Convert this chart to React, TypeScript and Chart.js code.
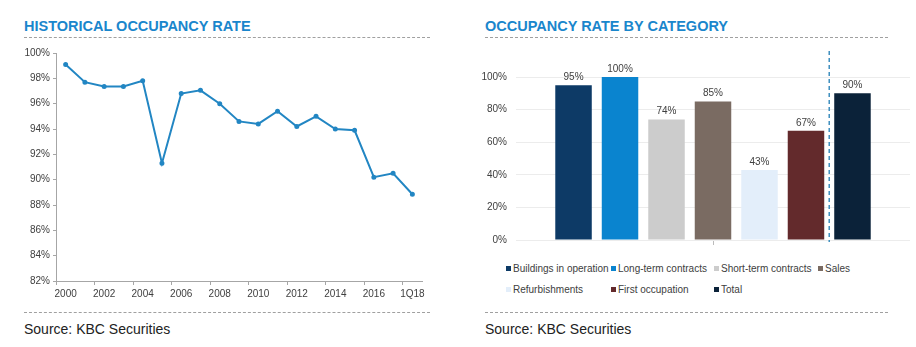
import React, { useEffect, useRef } from 'react';
import { Chart, registerables } from 'chart.js';

Chart.register(...registerables);

// ---------- Data ----------
const years = ['2000', '2001', '2002', '2003', '2004', '2005', '2006', '2007', '2008', '2009', '2010', '2011', '2012', '2013', '2014', '2015', '2016', '2017', '1Q18'];
const occupancy = [99.1, 97.7, 97.35, 97.35, 97.8, 91.3, 96.8, 97.05, 96.0, 94.6, 94.4, 95.4, 94.2, 95.0, 94.0, 93.9, 90.2, 90.5, 88.85];
const leftMin = 82;
const leftMax = 100;
const leftStep = 2;

const categories = ['Buildings in operation', 'Long-term contracts', 'Short-term contracts', 'Sales', 'Refurbishments', 'First occupation', 'Total'];
const categoryRates = [95, 100, 74, 85, 43, 67, 90];
const categoryColors = ['#0d3a66', '#0a84cf', '#cccccc', '#7a6b62', '#e3eefa', '#632a2c', '#0b2239'];
const rightMin = 0;
const rightMax = 100;
const rightStep = 20;

const FONT = "Arial, 'Liberation Sans', sans-serif";
const TEXT = '#404040';
const TITLE = '#1a86cc';

function HistoricalChart() {
  const ref = useRef<HTMLCanvasElement>(null);
  useEffect(() => {
    if (!ref.current) return;
    const chart = new Chart(ref.current, {
      type: 'line',
      data: {
        labels: years,
        datasets: [
          {
            label: 'Occupancy',
            data: occupancy,
            borderColor: '#2286c3',
            backgroundColor: '#2286c3',
            borderWidth: 2,
            pointRadius: 1.5,
            pointHoverRadius: 1.5,
            tension: 0,
          },
        ],
      },
      options: {
        animation: false,
        responsive: false,
        events: [],
        layout: { padding: { top: 13, right: 10, left: 0, bottom: 0 } },
        plugins: { legend: { display: false }, tooltip: { enabled: false } },
        scales: {
          x: {
            type: 'category',
            offset: true,
            grid: {
              display: true,
              drawOnChartArea: false,
              drawTicks: true,
              tickLength: 4,
              offset: true,
              color: (c: any) => (c.index % 2 === 0 ? '#a6a6a6' : 'rgba(0,0,0,0)'),
            },
            border: { display: true, color: '#a6a6a6' },
            ticks: {
              autoSkip: false,
              maxRotation: 0,
              padding: 3,
              color: TEXT,
              font: { family: FONT, size: 10 },
              callback: (_v: any, i: number) => (i % 2 === 0 ? years[i] : ''),
            },
            afterFit: (s: any) => {
              s.height = 24;
            },
          },
          y: {
            min: leftMin,
            max: leftMax,
            ticks: {
              stepSize: leftStep,
              padding: 3,
              color: TEXT,
              font: { family: FONT, size: 10 },
              callback: (v: any) => v + '%',
            },
            grid: { drawOnChartArea: false, drawTicks: true, tickLength: 3, color: '#a6a6a6' },
            border: { display: true, color: '#a6a6a6' },
            afterFit: (s: any) => {
              s.width = 36;
            },
          },
        },
      },
    });
    return () => chart.destroy();
  }, []);
  return <canvas ref={ref} width={412} height={265} style={{ position: 'absolute', left: 20, top: 40, width: 412, height: 265 }} />;
}

const barLabelPlugin = {
  id: 'barLabels',
  afterDatasetsDraw(chart: any) {
    const ctx = chart.ctx;
    ctx.save();
    ctx.font = `10px ${FONT}`;
    ctx.fillStyle = TEXT;
    ctx.textAlign = 'center';
    ctx.textBaseline = 'bottom';
    chart.data.datasets.forEach((ds: any, i: number) => {
      const meta = chart.getDatasetMeta(i);
      meta.data.forEach((bar: any, j: number) => {
        ctx.fillText(ds.data[j] + '%', bar.x, bar.y - 3);
      });
    });
    ctx.restore();
  },
};

const dividerPlugin = {
  id: 'divider',
  afterDatasetsDraw(chart: any) {
    const n = chart.data.datasets.length;
    const a = chart.getDatasetMeta(n - 2).data[0];
    const b = chart.getDatasetMeta(n - 1).data[0];
    if (!a || !b) return;
    const x = (a.x + a.width / 2 + b.x - b.width / 2) / 2;
    const ctx = chart.ctx;
    ctx.save();
    ctx.strokeStyle = '#3f8fbf';
    ctx.lineWidth = 1.5;
    ctx.setLineDash([4, 3]);
    ctx.beginPath();
    ctx.moveTo(x, chart.chartArea.top - 26);
    ctx.lineTo(x, chart.chartArea.bottom + 2);
    ctx.stroke();
    ctx.restore();
  },
};

function CategoryChart() {
  const ref = useRef<HTMLCanvasElement>(null);
  useEffect(() => {
    if (!ref.current) return;
    const chart = new Chart(ref.current, {
      type: 'bar',
      data: {
        labels: [''],
        datasets: categories.map((c, i) => ({
          label: c,
          data: [categoryRates[i]],
          backgroundColor: categoryColors[i],
          borderWidth: 0,
          categoryPercentage: 0.826,
          barPercentage: 0.785,
        })),
      },
      options: {
        animation: false,
        responsive: false,
        events: [],
        layout: { padding: { top: 37, right: 0, left: 0, bottom: 0 } },
        plugins: { legend: { display: false }, tooltip: { enabled: false } },
        scales: {
          x: {
            grid: { display: true, drawOnChartArea: false, drawTicks: true, tickLength: 5, offset: false, color: '#bbbbbb' },
            border: { display: false },
            ticks: { display: true, padding: 0, font: { family: FONT, size: 1 } },
            afterFit: (s: any) => {
              s.height = 13;
            },
          },
          y: {
            min: rightMin,
            max: rightMax,
            ticks: {
              stepSize: rightStep,
              padding: 9,
              color: TEXT,
              font: { family: FONT, size: 10 },
              callback: (v: any) => v + '%',
            },
            grid: { drawTicks: false, color: '#ececec' },
            border: { display: false },
            afterFit: (s: any) => {
              s.width = 36;
            },
          },
        },
      },
      plugins: [barLabelPlugin, dividerPlugin],
    });
    return () => chart.destroy();
  }, []);
  return <canvas ref={ref} width={430} height={215} style={{ position: 'absolute', left: 480, top: 40, width: 430, height: 215 }} />;
}

const colLefts = [506, 611, 714, 818];

function Legend() {
  return (
    <>
      {categories.map((c, i) => {
        const row = Math.floor(i / 4);
        const col = i % 4;
        return (
          <div
            key={c}
            style={{
              position: 'absolute',
              left: colLefts[col],
              top: 262 + row * 21,
              height: 12,
              display: 'flex',
              alignItems: 'center',
              whiteSpace: 'nowrap',
              font: `10px ${FONT}`,
              color: TEXT,
            }}
          >
            <span style={{ display: 'inline-block', width: 5, height: 5, background: categoryColors[i], marginRight: 2 }} />
            {c}
          </div>
        );
      })}
    </>
  );
}

function Dashed({ left, top, width }: { left: number; top: number; width: number }) {
  return <div style={{ position: 'absolute', left, top, width, height: 0, borderTop: '1px dashed #a0a0a0' }} />;
}

function Title({ left, text }: { left: number; text: string }) {
  return (
    <div style={{ position: 'absolute', left, top: 18.5, font: `bold 14.5px ${FONT}`, lineHeight: '14.5px', color: TITLE, whiteSpace: 'nowrap' }}>
      {text}
    </div>
  );
}

function Source({ left }: { left: number }) {
  return (
    <div style={{ position: 'absolute', left, top: 322, font: `14px ${FONT}`, lineHeight: '14px', color: '#222', whiteSpace: 'nowrap' }}>
      Source: KBC Securities
    </div>
  );
}

export default function App() {
  return (
    <div style={{ position: 'fixed', left: 0, top: 0, width: 916, height: 347, background: '#fff', overflow: 'hidden' }}>
      <Title left={24} text="HISTORICAL OCCUPANCY RATE" />
      <Dashed left={24} top={37} width={406} />
      <HistoricalChart />
      <Dashed left={24} top={312} width={406} />
      <Source left={24} />

      <Title left={485} text="OCCUPANCY RATE BY CATEGORY" />
      <Dashed left={485} top={37} width={403} />
      <CategoryChart />
      <Legend />
      <Dashed left={485} top={312} width={403} />
      <Source left={485} />
    </div>
  );
}
